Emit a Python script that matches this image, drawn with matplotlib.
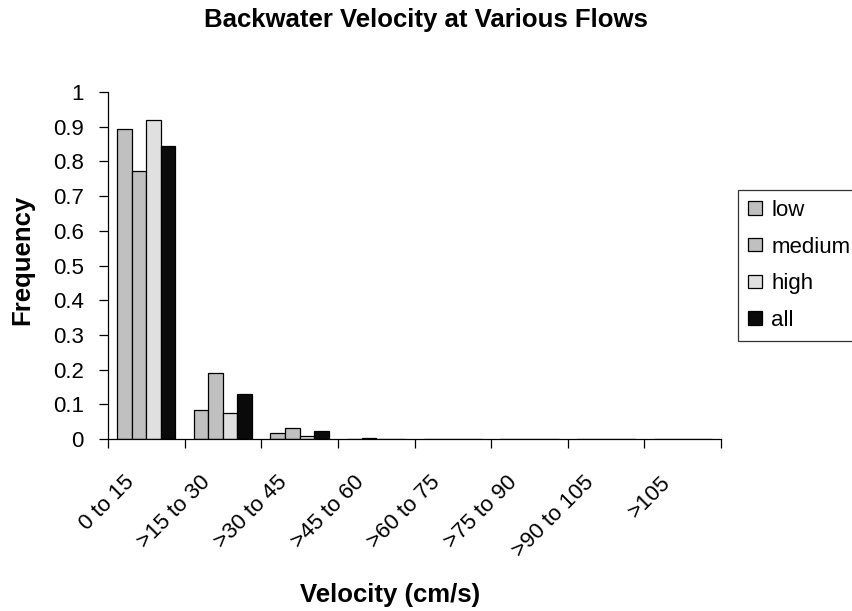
import matplotlib
matplotlib.use("Agg")
import matplotlib.pyplot as plt
import matplotlib.transforms as mtransforms
import numpy as np

categories = ["0 to 15", ">15 to 30", ">30 to 45", ">45 to 60", ">60 to 75",
              ">75 to 90", ">90 to 105", ">105"]
low = [0.893, 0.083, 0.017, 0.0, 0.0, 0.0, 0.0, 0.0]
medium = [0.773, 0.190, 0.032, 0.004, 0.0, 0.0, 0.0, 0.0]
high = [0.919, 0.074, 0.0075, 0.0, 0.0, 0.0, 0.0, 0.0]
all_flows = [0.843, 0.129, 0.022, 0.0, 0.0, 0.0, 0.0, 0.0]
series_names = ["low", "medium", "high", "all"]
series_colors = ["#C0C0C0", "#C0C0C0", "#E0E0E0", "#0A0A0A"]
yticks = [0, 0.1, 0.2, 0.3, 0.4, 0.5, 0.6, 0.7, 0.8, 0.9, 1]
ytick_labels = ["0", "0.1", "0.2", "0.3", "0.4", "0.5", "0.6", "0.7", "0.8", "0.9", "1"]

plt.rcParams['font.family'] = ['Liberation Sans', 'DejaVu Sans']

fig = plt.figure(figsize=(8.52, 6.11), dpi=100)
ax = fig.add_axes([108/852, 1-439/611, (721-108)/852, (439-92)/611])

n = len(categories)
centers = np.arange(n) + 0.5
bw = 0.19
series = [low, medium, high, all_flows]
for i, (vals, name, col) in enumerate(zip(series, series_names, series_colors)):
    x = centers + (i - 1.5) * bw
    ax.bar(x, vals, width=bw, color=col, edgecolor="black", linewidth=0.9,
           label=name, zorder=2)

ax.set_xlim(0, n)
ax.set_ylim(0, 1)
ax.set_yticks(yticks)
ax.set_yticklabels(ytick_labels)
ax.tick_params(axis='y', direction='out', length=6.5, width=0.9, pad=11, labelsize=16)

ax.set_xticks(np.arange(n + 1))
ax.set_xticklabels([])
ax.tick_params(axis='x', which='major', direction='out', length=6.5, width=0.9)

# category labels, rotated, at the category centres
offset = mtransforms.ScaledTranslation(-8/100, -33/100, fig.dpi_scale_trans)
trans = mtransforms.blended_transform_factory(ax.transData, ax.transAxes) + offset
for c, lab in zip(centers, categories):
    ax.text(c, 0, lab, transform=trans, rotation=45, ha='right', va='top',
            fontsize=16, clip_on=False)

for s in ['top', 'right']:
    ax.spines[s].set_visible(False)
for s in ['left', 'bottom']:
    ax.spines[s].set_linewidth(0.9)

fig.text(426/852, 1-27/611, "Backwater Velocity at Various Flows", ha='center',
         va='baseline', fontsize=18.5, fontweight='bold')
fig.text(390/852, 1-602/611, "Velocity (cm/s)", ha='center', va='baseline',
         fontsize=18.5, fontweight='bold')
fig.text(22/852, 1-260/611, "Frequency", ha='center', va='center', rotation=90,
         fontsize=18.5, fontweight='bold')

leg = fig.legend(loc='upper left', bbox_to_anchor=(738/852, 1-190/611),
                 fontsize=16, frameon=True, fancybox=False, shadow=False,
                 handlelength=0.62, handleheight=0.55, handletextpad=0.42,
                 labelspacing=0.7, borderpad=0.45, borderaxespad=0)
leg.get_frame().set_edgecolor('black')
leg.get_frame().set_linewidth(0.9)

fig.savefig("out.png", dpi=100)
